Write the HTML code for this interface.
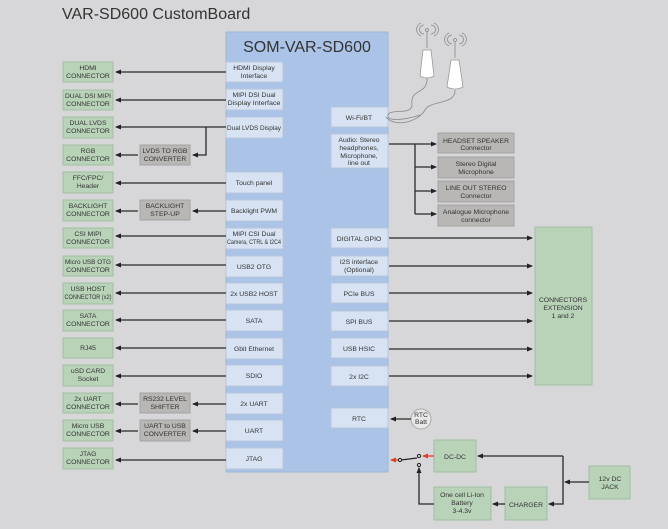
<!DOCTYPE html>
<html><head><meta charset="utf-8"><style>
html,body{margin:0;padding:0;background:#d7d7d9;}
svg{display:block;font-family:"Liberation Sans Narrow","Liberation Sans",sans-serif;}
.g{fill:#b9d3b9;stroke:#a3bca3;stroke-width:1}
.b{fill:#d7e3f3;stroke:#b9c7db;stroke-width:1}
.k{fill:#b9b7b5;stroke:#a5a3a1;stroke-width:1}
.l{stroke:#2a2a2a;stroke-width:1.3;fill:none}
text{font-size:6.8px;fill:#333;text-anchor:middle}
</style></head><body>
<svg width="668" height="529" viewBox="0 0 668 529">
<defs><marker id="a" markerWidth="6" markerHeight="6" refX="5" refY="3" orient="auto" markerUnits="userSpaceOnUse"><path d="M0,0.5 L6,3 L0,5.5z" fill="#222"/></marker>
<marker id="r" markerWidth="6" markerHeight="6" refX="5" refY="3" orient="auto" markerUnits="userSpaceOnUse"><path d="M0,0.5 L6,3 L0,5.5z" fill="#e53b2b"/></marker></defs>
<text x="62" y="19" style="font-size:16px;text-anchor:start;font-family:'Liberation Sans',sans-serif" fill="#333">VAR-SD600 CustomBoard</text>
<rect x="226" y="32" width="162" height="440" fill="#abc3e6" stroke="#9fb4d3"/>
<text x="307" y="52" style="font-size:16px;font-family:'Liberation Sans',sans-serif">SOM-VAR-SD600</text>
<g>
<rect class="g" x="63" y="62" width="50" height="20"/><text x="88" y="70">HDMI</text><text x="88" y="78">CONNECTOR</text>
<rect class="g" x="63" y="90" width="50" height="20"/><text x="88" y="98" textLength="46" lengthAdjust="spacingAndGlyphs">DUAL DSI MIPI</text><text x="88" y="106">CONNECTOR</text>
<rect class="g" x="63" y="117" width="50" height="21"/><text x="88" y="125">DUAL LVDS</text><text x="88" y="133">CONNECTOR</text>
<rect class="g" x="63" y="145" width="50" height="20"/><text x="88" y="153">RGB</text><text x="88" y="161">CONNECTOR</text>
<rect class="g" x="63" y="172" width="50" height="21"/><text x="88" y="180">FFC/FPC/</text><text x="88" y="188">Header</text>
<rect class="g" x="63" y="200" width="50" height="21"/><text x="88" y="208">BACKLIGHT</text><text x="88" y="216">CONNECTOR</text>
<rect class="g" x="63" y="228" width="50" height="20"/><text x="88" y="236">CSI MIPI</text><text x="88" y="244">CONNECTOR</text>
<rect class="g" x="63" y="256" width="50" height="20"/><text x="88" y="264" textLength="46" lengthAdjust="spacingAndGlyphs">Micro USB OTG</text><text x="88" y="272">CONNECTOR</text>
<rect class="g" x="63" y="283" width="50" height="21"/><text x="88" y="291">USB HOST</text><text x="88" y="299" textLength="47" lengthAdjust="spacingAndGlyphs">CONNECTOR (x2)</text>
<rect class="g" x="63" y="310" width="50" height="21"/><text x="88" y="318">SATA</text><text x="88" y="326">CONNECTOR</text>
<rect class="g" x="63" y="338" width="50" height="20"/><text x="88" y="350">RJ45</text>
<rect class="g" x="63" y="365" width="50" height="21"/><text x="88" y="373">uSD CARD</text><text x="88" y="381">Socket</text>
<rect class="g" x="63" y="393" width="50" height="20"/><text x="88" y="401">2x UART</text><text x="88" y="409">CONNECTOR</text>
<rect class="g" x="63" y="420" width="50" height="21"/><text x="88" y="428">Micro USB</text><text x="88" y="436">CONNECTOR</text>
<rect class="g" x="63" y="448" width="50" height="21"/><text x="88" y="456">JTAG</text><text x="88" y="464">CONNECTOR</text>
</g>
<rect class="k" x="140" y="145" width="50" height="20"/><text x="165" y="153">LVDS TO RGB</text><text x="165" y="161">CONVERTER</text>
<rect class="k" x="140" y="200" width="50" height="20"/><text x="165" y="208">BACKLIGHT</text><text x="165" y="216">STEP-UP</text>
<rect class="k" x="140" y="393" width="50" height="20"/><text x="165" y="401">RS232 LEVEL</text><text x="165" y="409">SHIFTER</text>
<rect class="k" x="140" y="420" width="50" height="21"/><text x="165" y="428">UART to USB</text><text x="165" y="436">CONVERTER</text>
<g>
<rect class="b" x="226" y="62" width="57" height="20"/><text x="254" y="70">HDMI Display</text><text x="254" y="78">Interface</text>
<rect class="b" x="226" y="89" width="57" height="21"/><text x="254" y="97">MIPI DSI Dual</text><text x="254" y="105" textLength="53" lengthAdjust="spacingAndGlyphs">Display Interface</text>
<rect class="b" x="226" y="117" width="57" height="21"/><text x="254" y="130" textLength="54" lengthAdjust="spacingAndGlyphs">Dual LVDS Display</text>
<rect class="b" x="226" y="172" width="57" height="21"/><text x="254" y="185">Touch panel</text>
<rect class="b" x="226" y="200" width="57" height="21"/><text x="254" y="213">Backlight PWM</text>
<rect class="b" x="226" y="228" width="57" height="21"/><text x="254" y="236">MIPI CSI Dual</text><text x="254" y="244" textLength="54" lengthAdjust="spacingAndGlyphs">Camera, CTRL &amp; I2C4</text>
<rect class="b" x="226" y="256" width="57" height="21"/><text x="254" y="269">USB2 OTG</text>
<rect class="b" x="226" y="283" width="57" height="21"/><text x="254" y="296">2x USB2 HOST</text>
<rect class="b" x="226" y="310" width="57" height="21"/><text x="254" y="323">SATA</text>
<rect class="b" x="226" y="338" width="57" height="21"/><text x="254" y="351">Gbit Ethernet</text>
<rect class="b" x="226" y="365" width="57" height="21"/><text x="254" y="378">SDIO</text>
<rect class="b" x="226" y="393" width="57" height="21"/><text x="254" y="406">2x UART</text>
<rect class="b" x="226" y="420" width="57" height="21"/><text x="254" y="433">UART</text>
<rect class="b" x="226" y="448" width="57" height="21"/><text x="254" y="461">JTAG</text>
</g>
<g>
<rect class="b" x="331" y="107" width="57" height="20"/><text x="359" y="120">Wi-Fi/BT</text>
<rect class="b" x="331" y="134" width="57" height="34"/><text x="359" y="142">Audio: Stereo</text><text x="359" y="150">headphones,</text><text x="359" y="158">Microphone,</text><text x="359" y="165">line out</text>
<rect class="b" x="331" y="228" width="57" height="20"/><text x="359" y="241">DIGITAL GPIO</text>
<rect class="b" x="331" y="256" width="57" height="20"/><text x="359" y="264">I2S interface</text><text x="359" y="272">(Optional)</text>
<rect class="b" x="331" y="283" width="57" height="20"/><text x="359" y="296">PCIe BUS</text>
<rect class="b" x="331" y="311" width="57" height="20"/><text x="359" y="324">SPI BUS</text>
<rect class="b" x="331" y="338" width="57" height="20"/><text x="359" y="351">USB HSIC</text>
<rect class="b" x="331" y="366" width="57" height="20"/><text x="359" y="379">2x I2C</text>
<rect class="b" x="331" y="408" width="57" height="20"/><text x="359" y="421">RTC</text>
</g>
<rect class="k" x="438" y="133" width="76" height="20"/><text x="476" y="143">HEADSET SPEAKER</text><text x="476" y="150">Connector</text>
<rect class="k" x="438" y="157" width="76" height="21"/><text x="476" y="166">Stereo Digital</text><text x="476" y="174">Microphone</text>
<rect class="k" x="438" y="181" width="76" height="21"/><text x="476" y="190">LINE OUT STEREO</text><text x="476" y="198">Connector</text>
<rect class="k" x="438" y="205" width="76" height="21"/><text x="476" y="214">Analogue Microphone</text><text x="476" y="222">connector</text>
<path class="l" d="M389,144 H436" marker-end="url(#a)"/>
<path class="l" d="M415,144 V214"/>
<path class="l" d="M415,167 H436" marker-end="url(#a)"/>
<path class="l" d="M415,191 H436" marker-end="url(#a)"/>
<path class="l" d="M415,214 H436" marker-end="url(#a)"/>
<rect class="g" x="535" y="227" width="57" height="158"/><text x="563" y="302">CONNECTORS</text><text x="563" y="310">EXTENSION</text><text x="563" y="318">1 and 2</text>
<g class="l">
<path d="M389,238 H532" marker-end="url(#a)"/>
<path d="M389,266 H532" marker-end="url(#a)"/>
<path d="M389,293 H532" marker-end="url(#a)"/>
<path d="M389,321 H532" marker-end="url(#a)"/>
<path d="M389,349 H532" marker-end="url(#a)"/>
<path d="M389,376 H532" marker-end="url(#a)"/>
</g>
<g class="l">
<path d="M226,72 H116" marker-end="url(#a)"/>
<path d="M226,100 H116" marker-end="url(#a)"/>
<path d="M226,127 H116" marker-end="url(#a)"/>
<path d="M206,127 V155 H193" marker-end="url(#a)"/>
<path d="M138,155 H116" marker-end="url(#a)"/>
<path d="M226,183 H116" marker-end="url(#a)"/>
<path d="M226,211 H193" marker-end="url(#a)"/>
<path d="M138,211 H116" marker-end="url(#a)"/>
<path d="M226,236 H116" marker-end="url(#a)"/>
<path d="M226,265 H116" marker-end="url(#a)"/>
<path d="M226,293 H116" marker-end="url(#a)"/>
<path d="M226,320 H116" marker-end="url(#a)"/>
<path d="M226,348 H116" marker-end="url(#a)"/>
<path d="M226,376 H116" marker-end="url(#a)"/>
<path d="M226,404 H193" marker-end="url(#a)"/>
<path d="M138,404 H116" marker-end="url(#a)"/>
<path d="M226,431 H193" marker-end="url(#a)"/>
<path d="M138,431 H116" marker-end="url(#a)"/>
<path d="M226,460 H116" marker-end="url(#a)"/>
</g>
<circle cx="421" cy="419" r="10" fill="#e8e8e8" stroke="#aaa"/><text x="421" y="417">RTC</text><text x="421" y="424">Batt</text>
<path class="l" d="M411,419 H391" marker-end="url(#a)"/>
<rect class="g" x="434" y="440" width="42" height="32"/><text x="455" y="459">DC-DC</text>
<rect class="g" x="589" y="466" width="41" height="33"/><text x="610" y="481">12v DC</text><text x="610" y="489">JACK</text>
<rect class="g" x="505" y="487" width="42" height="33"/><text x="526" y="507">CHARGER</text>
<rect class="g" x="434" y="487" width="57" height="33"/><text x="462" y="497">One cell Li-Ion</text><text x="462" y="505">Battery</text><text x="462" y="513">3-4.3v</text>
<path class="l" d="M563,456 H478" marker-end="url(#a)"/>
<path class="l" d="M563,456 V504 H549" marker-end="url(#a)"/>
<path class="l" d="M589,482 H565" marker-end="url(#a)"/>
<path class="l" d="M505,504 H493" marker-end="url(#a)"/>
<path class="l" d="M434,504 H419 V468" marker-end="url(#a)"/>
<path d="M434,456 H423" stroke="#e53b2b" stroke-width="1.3" marker-end="url(#r)"/>
<circle cx="419" cy="456" r="1.6" fill="none" stroke="#222"/>
<circle cx="419" cy="465" r="1.6" fill="none" stroke="#222"/>
<path d="M417,458 L401,460" stroke="#222" stroke-width="1.2"/>
<circle cx="400" cy="460" r="1.6" fill="none" stroke="#222"/>
<path d="M398,460 H391" stroke="#e53b2b" stroke-width="1.3" marker-end="url(#r)"/>
<g stroke="#888" fill="none" stroke-width="0.8">
<circle cx="427" cy="30" r="1.5"/>
<path d="M424,25 a4,4 0 0 0 0,9 M421,23 a7,7 0 0 0 0,13 M431,25 a4,4 0 0 1 0,9 M434,23 a7,7 0 0 1 0,13"/>
<circle cx="455" cy="40" r="1.5"/>
<path d="M452,35 a4,4 0 0 0 0,9 M449,33 a7,7 0 0 0 0,13 M459,35 a4,4 0 0 1 0,9 M462,33 a7,7 0 0 1 0,13"/>
<path d="M427,78 C428,95 410,88 412,104 C413,116 390,108 388,115 C386,122 405,120 420,115"/>
<path d="M455,90 C456,105 430,100 425,110 C418,122 395,128 386,117"/>
</g>
<path d="M427,32 V48" stroke="#888" stroke-width="0.8"/>
<path d="M455,42 V58" stroke="#888" stroke-width="0.8"/>
<path d="M423,50 L431,50 L434,76 Q427,80 420,76 Z" fill="#fff" stroke="#999" stroke-width="0.8"/>
<path d="M451,60 L459,60 L463,87 Q455,91 447,87 Z" fill="#fff" stroke="#999" stroke-width="0.8"/>
</svg>
</body></html>
